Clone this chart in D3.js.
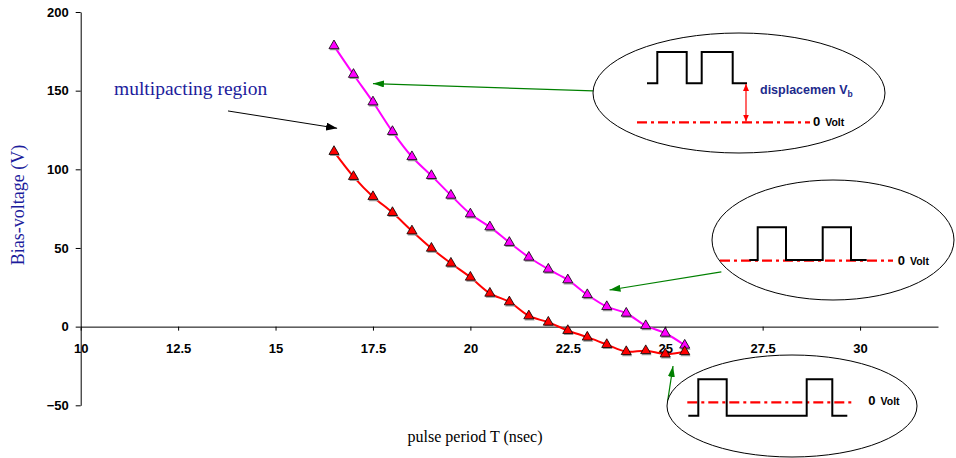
<!DOCTYPE html>
<html>
<head>
<meta charset="utf-8">
<script src="https://cdn.jsdelivr.net/npm/d3@7"></script>
<style>
  body { margin: 0; background: #fff; }
  .tick text { font-family: "Liberation Sans", Arial, sans-serif; font-weight: bold; font-size: 13px; fill: #000; }
  .serif { font-family: "Liberation Serif", "Times New Roman", serif; }
  .inset-text { font-family: "Liberation Sans", Arial, sans-serif; font-weight: bold; }
</style>
</head>
<body>
<svg id="chart"></svg>
<script>
// pulse period T (nsec)
const periods = [16.5, 17, 17.5, 18, 18.5, 19, 19.5, 20, 20.5, 21, 21.5, 22, 22.5, 23, 23.5, 24, 24.5, 25, 25.5];
// upper boundary (magenta) and lower boundary (red), bias voltage in V
const upperBias = [178.5, 160.3, 142.8, 124, 108, 96, 83.5, 71.6, 63.4, 53.5, 44.1, 36.5, 29.7, 20.3, 12.7, 8.5, 0.6, -4.2, -11.8];
const lowerBias = [111.3, 95.4, 82.6, 72.5, 60.8, 49.8, 40.3, 31.4, 21.2, 15.7, 6.8, 2.8, -2.5, -6.7, -11.4, -15.9, -15.3, -17.4, -15.9];
const xTicks = [10, 12.5, 15, 17.5, 20, 22.5, 25, 27.5, 30];
const yTicks = [-50, 0, 50, 100, 150, 200];

const width = 956, height = 458;
const svg = d3.select("#chart").attr("width", width).attr("height", height);

const x = d3.scaleLinear().domain([10, 32]).range([80.7, 938]);
const y = d3.scaleLinear().domain([-50, 200]).range([405.3, 12]);

// arrow heads
const defs = svg.append("defs");
function marker(id, color, w, h) {
    defs.append("marker")
        .attr("id", id)
        .attr("viewBox", `0 -${h / 2} ${w} ${h}`)
        .attr("refX", w).attr("refY", 0)
        .attr("markerUnits", "userSpaceOnUse")
        .attr("markerWidth", w).attr("markerHeight", h)
        .attr("orient", "auto-start-reverse")
        .append("path")
        .attr("d", `M0,-${h / 2}L${w},0L0,${h / 2}Z`)
        .attr("fill", color);
}
marker("arrow-black", "#000", 11, 8);
marker("arrow-green", "#008000", 11, 7);
marker("arrow-red", "#ff0000", 7, 6);

// axes
svg.append("g")
    .attr("transform", `translate(${x(10)},0)`)
    .call(d3.axisLeft(y).tickValues(yTicks).tickSize(5).tickSizeOuter(0).tickPadding(7))
    .call(g => g.selectAll("path, line").attr("stroke", "#000"));

svg.append("g")
    .attr("transform", `translate(0,${y(0)})`)
    .call(d3.axisBottom(x).tickValues(xTicks).tickFormat(d => d).tickSize(4).tickSizeOuter(0).tickPadding(13))
    .call(g => g.selectAll("path, line").attr("stroke", "#000"));

// axis titles
svg.append("text")
    .attr("class", "serif")
    .attr("transform", `translate(24,205) rotate(-90)`)
    .attr("text-anchor", "middle")
    .attr("font-size", 18)
    .attr("fill", "#1c1c9c")
    .text("Bias-voltage (V)");

svg.append("text")
    .attr("class", "serif")
    .attr("x", 475).attr("y", 442)
    .attr("text-anchor", "middle")
    .attr("font-size", 16)
    .text("pulse period T (nsec)");

// series
const line = d3.line().x(d => x(d[0])).y(d => y(d[1])).curve(d3.curveCatmullRom.alpha(0.5));
const series = [
    { values: upperBias, color: "#ff00ff" },
    { values: lowerBias, color: "#ff0000" }
];
const tri = d3.symbol().type(d3.symbolTriangle).size(44);

series.forEach(s => {
    const pts = periods.map((p, i) => [p, s.values[i]]);
    svg.append("path")
        .datum(pts)
        .attr("fill", "none")
        .attr("stroke", s.color)
        .attr("stroke-width", 2)
        .attr("d", line);
    // marker shadow
    svg.append("g").selectAll("path")
        .data(pts).enter().append("path")
        .attr("d", tri)
        .attr("transform", d => `translate(${x(d[0]) + 0.8},${y(d[1]) + 1.6})`)
        .attr("fill", "#999");
    svg.append("g").selectAll("path")
        .data(pts).enter().append("path")
        .attr("d", tri)
        .attr("transform", d => `translate(${x(d[0])},${y(d[1])})`)
        .attr("fill", s.color)
        .attr("stroke", "#000")
        .attr("stroke-width", 0.8);
});

// multipacting region label + arrow
svg.append("text")
    .attr("class", "serif")
    .attr("x", 114).attr("y", 95)
    .attr("font-size", 19.5)
    .attr("fill", "#1c1c9c")
    .text("multipacting region");

svg.append("line")
    .attr("x1", x(13.78)).attr("y1", y(137.1))
    .attr("x2", x(16.58)).attr("y2", y(126.1))
    .attr("stroke", "#000").attr("stroke-width", 1)
    .attr("marker-end", "url(#arrow-black)");

// green pointer arrows from the insets
const pointers = [
    { from: [23.15, 149.8], to: [17.5, 154.5] },
    { from: [26.44, 34.8], to: [23.57, 23.3] },
    { from: [25.06, -47.7], to: [25.2, -25] }
];
svg.append("g").selectAll("line")
    .data(pointers).enter().append("line")
    .attr("x1", d => x(d.from[0])).attr("y1", d => y(d.from[1]))
    .attr("x2", d => x(d.to[0])).attr("y2", d => y(d.to[1]))
    .attr("stroke", "#008000").attr("stroke-width", 1.2)
    .attr("marker-end", "url(#arrow-green)");

// insets: pulse train sketches
function inset(o) {
    const g = svg.append("g");
    g.append("ellipse")
        .attr("cx", o.cx).attr("cy", o.cy).attr("rx", o.rx).attr("ry", o.ry)
        .attr("fill", "#fff").attr("stroke", "#000").attr("stroke-width", 1);
    g.append("line")
        .attr("x1", o.zero[0]).attr("x2", o.zero[1])
        .attr("y1", o.zero[2]).attr("y2", o.zero[2])
        .attr("stroke", "#ff0000").attr("stroke-width", 2.2)
        .attr("stroke-dasharray", "10,4,3,4");
    g.append("path")
        .attr("d", d3.line()(o.wave))
        .attr("fill", "none").attr("stroke", "#000").attr("stroke-width", 2);
    const t = g.append("text")
        .attr("class", "inset-text")
        .attr("x", o.label[0]).attr("y", o.label[1]);
    t.append("tspan").attr("font-size", 13).text("0");
    t.append("tspan").attr("font-size", 10.5).attr("dx", 5).text("Volt");
    return g;
}

const g1 = inset({
    cx: 739, cy: 93, rx: 146, ry: 60,
    zero: [637, 810, 122.3],
    wave: [[647, 83.3], [657.3, 83.3], [657.3, 52], [686.7, 52], [686.7, 83.3], [701.7, 83.3],
           [701.7, 52], [732.7, 52], [732.7, 83.3], [747, 83.3]],
    label: [813, 126]
});
g1.append("line")
    .attr("x1", 746).attr("x2", 746).attr("y1", 84).attr("y2", 121.5)
    .attr("stroke", "#ff0000").attr("stroke-width", 1.2)
    .attr("marker-start", "url(#arrow-red)")
    .attr("marker-end", "url(#arrow-red)");
const d1 = g1.append("text")
    .attr("class", "inset-text")
    .attr("x", 760).attr("y", 94)
    .attr("font-size", 12.5)
    .attr("fill", "#1c2a8c");
d1.append("tspan").text("displacemen V");
d1.append("tspan").attr("font-size", 8.5).attr("dy", 3).text("b");

inset({
    cx: 833, cy: 240, rx: 121, ry: 60,
    zero: [720, 893, 260.7],
    wave: [[749.3, 260], [757.7, 260], [757.7, 227.3], [786, 227.3], [786, 260], [822.7, 260],
           [822.7, 227.3], [851, 227.3], [851, 260], [866.7, 260]],
    label: [897.7, 264.5]
});

inset({
    cx: 792, cy: 406, rx: 125, ry: 51,
    zero: [687.3, 852.7, 402.3],
    wave: [[688.3, 415.7], [698.3, 415.7], [698.3, 379.3], [726.7, 379.3], [726.7, 415.7], [806.7, 415.7],
           [806.7, 379.3], [832.3, 379.3], [832.3, 415.7], [847.3, 415.7]],
    label: [868.3, 404.5]
});
</script>
</body>
</html>
